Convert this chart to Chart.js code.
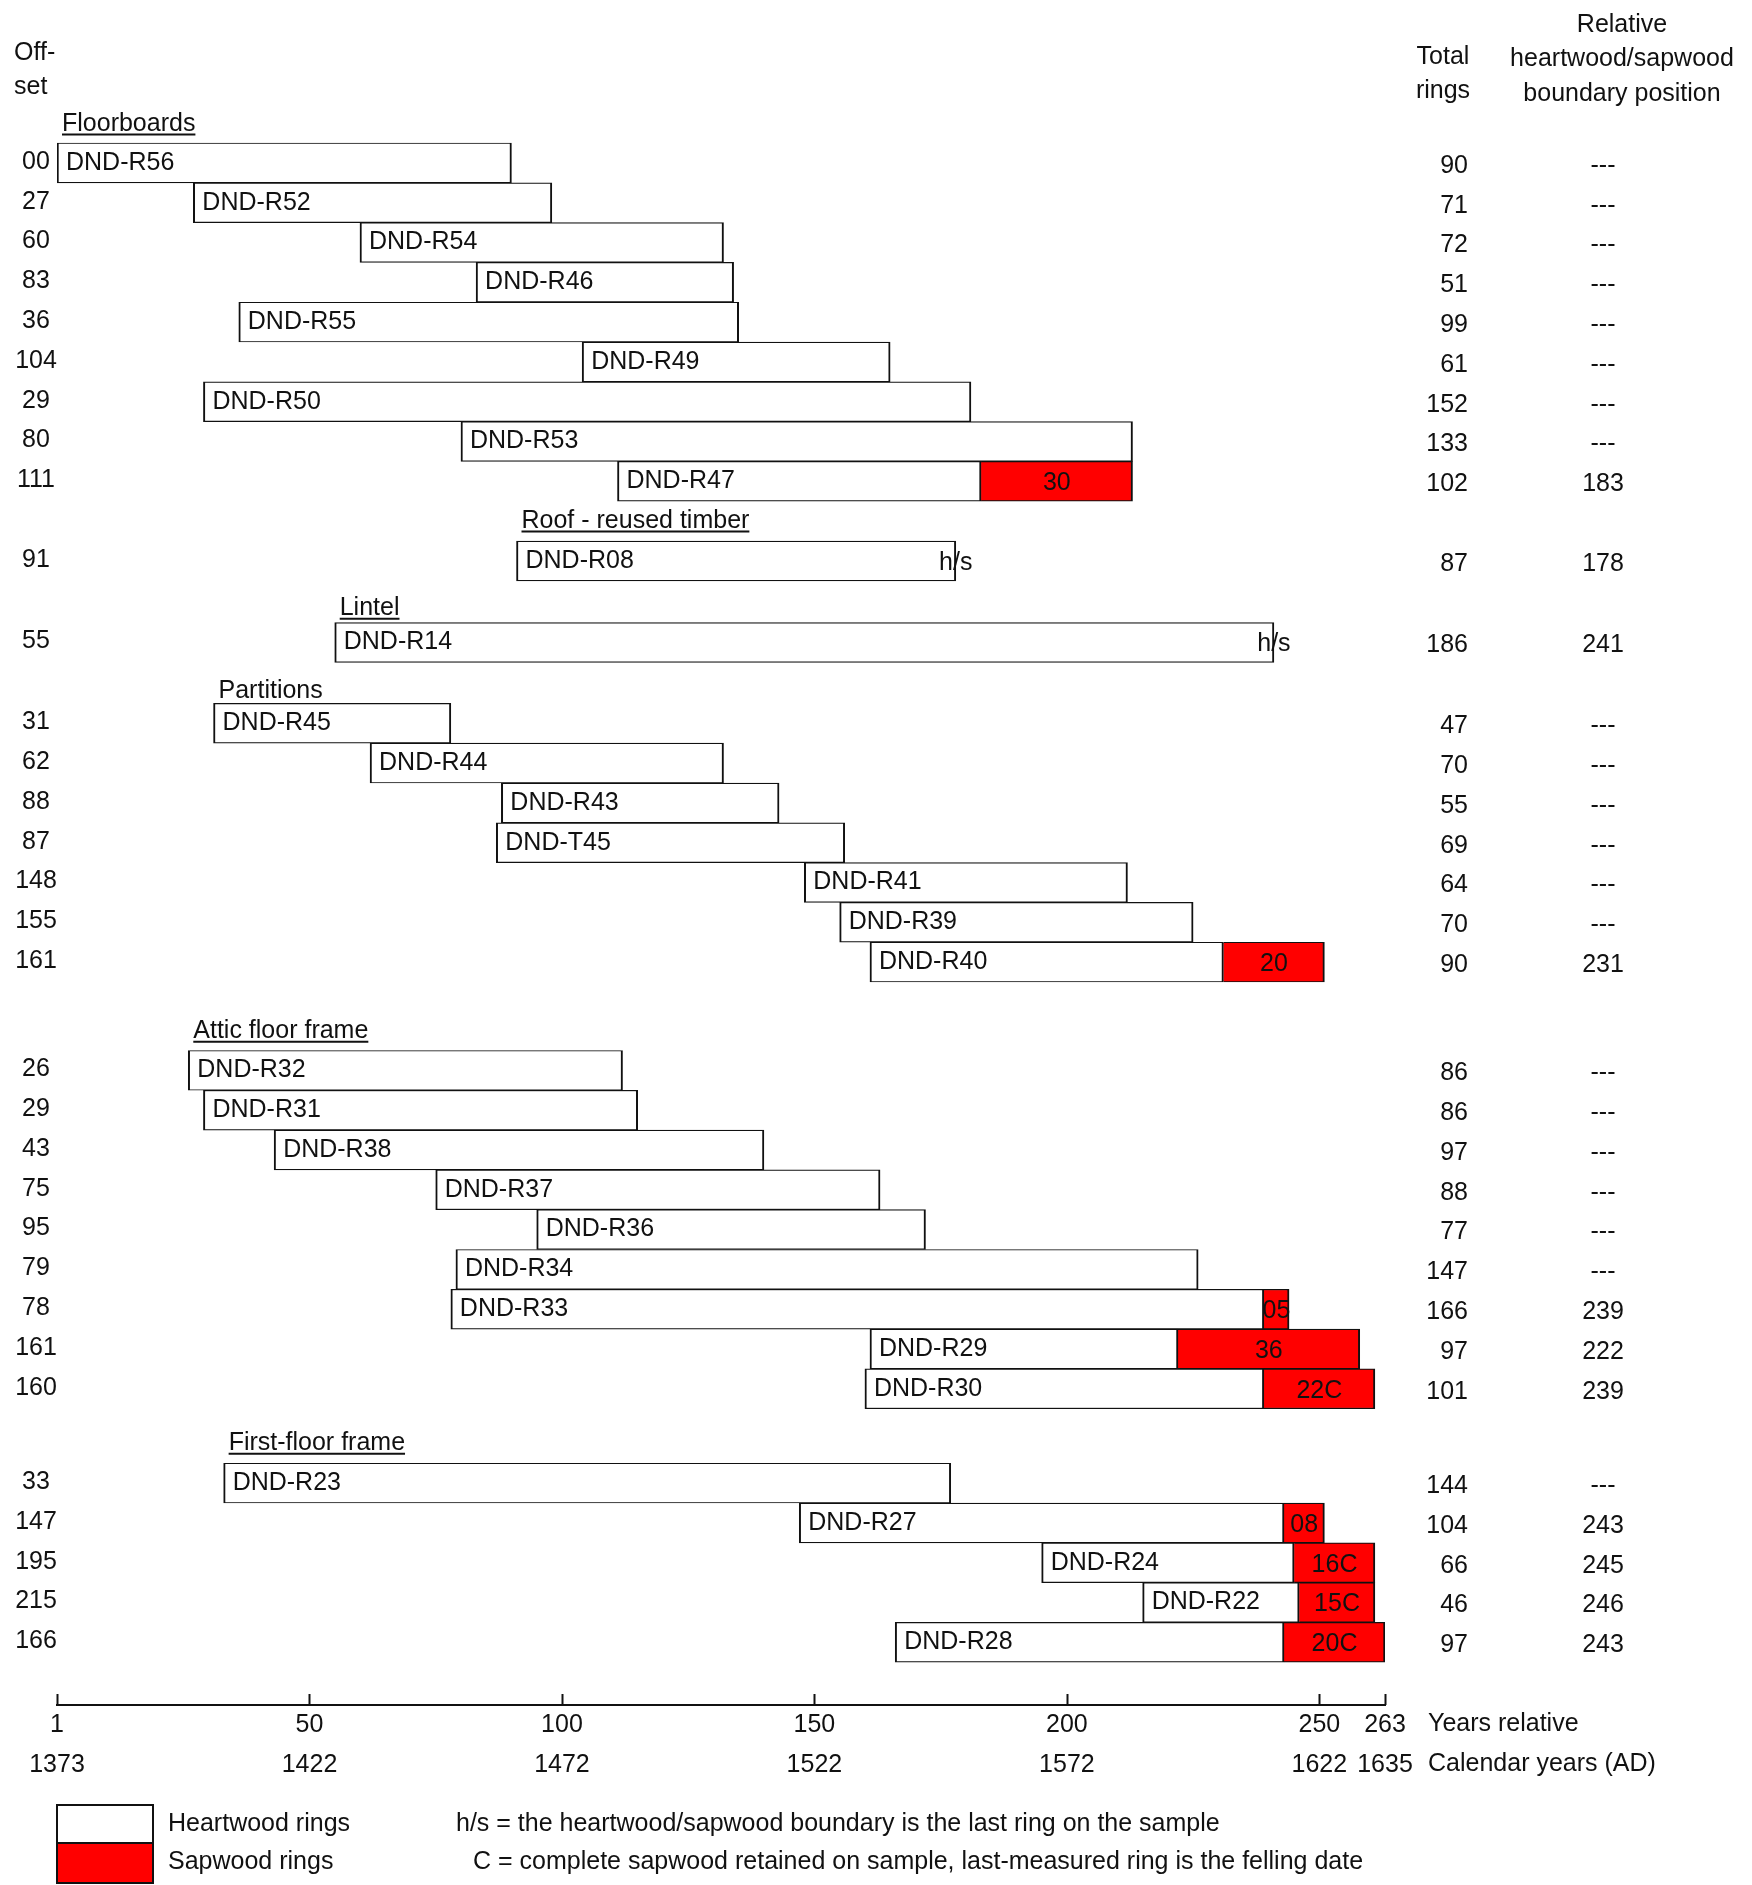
<!DOCTYPE html>
<html>
<head>
<meta charset="utf-8">
<title>Dendrochronology bar diagram</title>
<script src="https://cdn.jsdelivr.net/npm/chart.js@4.4.1/dist/chart.umd.min.js"></script>
<style>
    html, body { margin: 0; padding: 0; background: #ffffff; }
    #chartRingsCanvas { display: block; }
</style>
</head>
<body>
<canvas id="chartRingsCanvas" width="1752" height="1885"></canvas>
<script>

// ---- data ----
var groupNames      = ["Floorboards", "Roof - reused timber", "Lintel", "Partitions", "Attic floor frame", "First-floor frame"];
var groupUnderlined = [true, true, true, false, true, true];

var sampleNames = ["DND-R56", "DND-R52", "DND-R54", "DND-R46", "DND-R55", "DND-R49", "DND-R50", "DND-R53", "DND-R47",
                   "DND-R08",
                   "DND-R14",
                   "DND-R45", "DND-R44", "DND-R43", "DND-T45", "DND-R41", "DND-R39", "DND-R40",
                   "DND-R32", "DND-R31", "DND-R38", "DND-R37", "DND-R36", "DND-R34", "DND-R33", "DND-R29", "DND-R30",
                   "DND-R23", "DND-R27", "DND-R24", "DND-R22", "DND-R28"];
var sampleGroup = [0, 0, 0, 0, 0, 0, 0, 0, 0,
                   1,
                   2,
                   3, 3, 3, 3, 3, 3, 3,
                   4, 4, 4, 4, 4, 4, 4, 4, 4,
                   5, 5, 5, 5, 5];
var offsets     = [0, 27, 60, 83, 36, 104, 29, 80, 111,
                   91,
                   55,
                   31, 62, 88, 87, 148, 155, 161,
                   26, 29, 43, 75, 95, 79, 78, 161, 160,
                   33, 147, 195, 215, 166];
var totalRings  = [90, 71, 72, 51, 99, 61, 152, 133, 102,
                   87,
                   186,
                   47, 70, 55, 69, 64, 70, 90,
                   86, 86, 97, 88, 77, 147, 166, 97, 101,
                   144, 104, 66, 46, 97];
var boundaryPos = [null, null, null, null, null, null, null, null, 183,
                   178,
                   241,
                   null, null, null, null, null, null, 231,
                   null, null, null, null, null, null, 239, 222, 239,
                   null, 243, 245, 246, 243];
var completeSapwood = ["DND-R30", "DND-R24", "DND-R22", "DND-R28"];   //samples marked with C

var tickValues     = [0, 50, 100, 150, 200, 250, 263];
var relYearLabels  = ["1", "50", "100", "150", "200", "250", "263"];
var calYearLabels  = ["1373", "1422", "1472", "1522", "1572", "1622", "1635"];

// ---- layout ----
var groupGap  = [0, 2, 2.05, 2.03, 2.72, 2.37];    //row units between the last bar of a group and the first of the next
var titleLift = [0.98, 1.0, 0.86, 0.8, 0.98, 1.0];  //how far above its first bar each group title sits (row units)
var INK   = "#111111";
var RED   = "#ff0000";
var FAMILY = '"Liberation Sans Narrow", "Liberation Sans", Arial, sans-serif';

//pick a font size so that a sample name is as wide as in the original
var probe = document.createElement("canvas").getContext("2d");
probe.font = "100px " + FAMILY;
var SIZE = Math.round(100 * 108 / probe.measureText("DND-R56").width * 2) / 2;
var FONT = SIZE + "px " + FAMILY;

function showDendroChart() {

    var canvas = document.getElementById("chartRingsCanvas");

    //row position of every sample on the vertical axis
    var rowPos = [];
    var pos = 0;
    for (var i = 0; i < sampleNames.length; i++) {
        if (i > 0) pos += (sampleGroup[i] != sampleGroup[i - 1]) ? groupGap[sampleGroup[i]] : 1;
        rowPos.push(pos);
    }

    var heartData = [];
    var sapData = [];
    for (var i = 0; i < sampleNames.length; i++) {
        var end = offsets[i] + totalRings[i];
        var hsEnd = boundaryPos[i] == null ? end : boundaryPos[i];
        heartData.push({ x: [offsets[i], hsEnd], y: rowPos[i] });
        if (boundaryPos[i] != null && end > boundaryPos[i]) sapData.push({ x: [boundaryPos[i], end], y: rowPos[i] });
    }

    //texts, columns, titles, legend and the upward tick marks
    var annotate = {
        id: "annotate",
        afterDraw: function(chart) {
            var ctx = chart.ctx;
            var xs = chart.scales.x;
            var ys = chart.scales.y;
            var area = chart.chartArea;
            ctx.save();
            ctx.fillStyle = INK;
            ctx.strokeStyle = INK;
            ctx.font = FONT;
            ctx.textBaseline = "middle";

            //column headers
            ctx.textAlign = "left";
            ctx.fillText("Off-", 14, 53);
            ctx.fillText("set", 14, 87);
            ctx.textAlign = "center";
            ctx.fillText("Total", 1443, 57);
            ctx.fillText("rings", 1443, 91);
            ctx.fillText("Relative", 1622, 25);
            ctx.fillText("heartwood/sapwood", 1622, 59);
            ctx.fillText("boundary position", 1622, 94);

            for (var i = 0; i < sampleNames.length; i++) {
                var y = ys.getPixelForValue(rowPos[i]);
                var end = offsets[i] + totalRings[i];

                ctx.textAlign = "left";
                ctx.fillText(sampleNames[i], xs.getPixelForValue(offsets[i]) + 9, y);

                ctx.textAlign = "center";
                ctx.fillText(String(offsets[i]).padStart(2, "0"), 36, y - 1);
                ctx.fillText(boundaryPos[i] == null ? "---" : String(boundaryPos[i]), 1603, y + 3);
                ctx.textAlign = "right";
                ctx.fillText(String(totalRings[i]), 1468, y + 3);

                if (boundaryPos[i] != null) {
                    ctx.textAlign = "center";
                    var sap = end - boundaryPos[i];
                    if (sap > 0) {
                        var lab = String(sap).padStart(2, "0") + (completeSapwood.indexOf(sampleNames[i]) >= 0 ? "C" : "");
                        var cx = (xs.getPixelForValue(boundaryPos[i]) + xs.getPixelForValue(end)) / 2;
                        ctx.fillText(lab, cx, y + 2);
                    } else {
                        ctx.fillText("h/s", xs.getPixelForValue(end), y + 2);
                    }
                }
            }

            //group titles
            ctx.textAlign = "left";
            ctx.lineWidth = 2;
            for (var g = 0; g < groupNames.length; g++) {
                var first = sampleGroup.indexOf(g);
                var tx = xs.getPixelForValue(offsets[first]) + 5;
                var ty = ys.getPixelForValue(rowPos[first] - titleLift[g]);
                ctx.fillText(groupNames[g], tx, ty);
                if (groupUnderlined[g]) {
                    var w = ctx.measureText(groupNames[g]).width;
                    ctx.beginPath();
                    ctx.moveTo(tx, ty + SIZE * 0.42);
                    ctx.lineTo(tx + w, ty + SIZE * 0.42);
                    ctx.stroke();
                }
            }

            //tick marks pointing up from the axis line
            ctx.lineWidth = 2;
            for (var t = 0; t < tickValues.length; t++) {
                var px = Math.round(xs.getPixelForValue(tickValues[t])) + 0.5;
                ctx.beginPath();
                ctx.moveTo(px, area.bottom);
                ctx.lineTo(px, area.bottom - 11);
                ctx.stroke();
            }

            //axis captions
            ctx.textAlign = "left";
            ctx.fillText("Years relative", 1428, 1724);
            ctx.fillText("Calendar years (AD)", 1428, 1764);

            //legend
            ctx.fillStyle = "#ffffff";
            ctx.fillRect(57, 1805, 96, 38);
            ctx.strokeRect(57, 1805, 96, 38);
            ctx.fillStyle = RED;
            ctx.fillRect(57, 1843, 96, 40);
            ctx.strokeRect(57, 1843, 96, 40);
            ctx.fillStyle = INK;
            ctx.fillText("Heartwood rings", 168, 1824);
            ctx.fillText("Sapwood rings", 168, 1862);
            ctx.fillText("h/s = the heartwood/sapwood boundary is the last ring on the sample", 456, 1824);
            ctx.fillText("C = complete sapwood retained on sample, last-measured ring is the felling date", 473, 1862);

            ctx.restore();
        }
    };

    //Create and configure the chart object
    new Chart(canvas, {
        type: "bar",
        data: {
            datasets: [{
                label: "Heartwood rings",
                data: heartData,
                backgroundColor: "#ffffff",
                borderColor: INK,
                borderWidth: { top: 1.2, bottom: 1.2, left: 2, right: 2 },
                borderSkipped: false
            }, {
                label: "Sapwood rings",
                data: sapData,
                backgroundColor: RED,
                borderColor: INK,
                borderWidth: { top: 1.2, bottom: 1.2, left: 0, right: 2 },
                borderSkipped: false
            }]
        },
        options: {
            indexAxis: "y",
            responsive: false,
            animation: false,
            events: [],
            grouped: false,
            barPercentage: 1,
            categoryPercentage: 1,
            layout: { padding: { left: 57, right: 367, top: 43.5, bottom: 0 } },
            plugins: { legend: { display: false }, tooltip: { enabled: false } },
            scales: {
                y: {
                    type: "linear",
                    reverse: true,
                    offset: false,
                    grace: 0,
                    min: -3,
                    max: 38.745,
                    display: false
                },
                x: {
                    type: "linear",
                    position: "bottom",
                    offset: false,
                    min: 0,
                    max: 263,
                    afterBuildTicks: function(axis) {
                        axis.ticks = tickValues.map(function(v) { return { value: v }; });
                    },
                    afterFit: function(axis) { axis.height = 180; },
                    grid: { display: false, drawTicks: false },
                    border: { display: true, color: INK, width: 2 },
                    ticks: {
                        autoSkip: false,
                        maxRotation: 0,
                        padding: 0,
                        color: INK,
                        font: { family: FAMILY, size: SIZE, lineHeight: 40 / SIZE },
                        callback: function(value, index) {
                            return [relYearLabels[index], calYearLabels[index]];
                        }
                    }
                }
            }
        },
        plugins: [annotate]
    }); //end of configuration of the new Chart() object
}

showDendroChart();
</script>
</body>
</html>
